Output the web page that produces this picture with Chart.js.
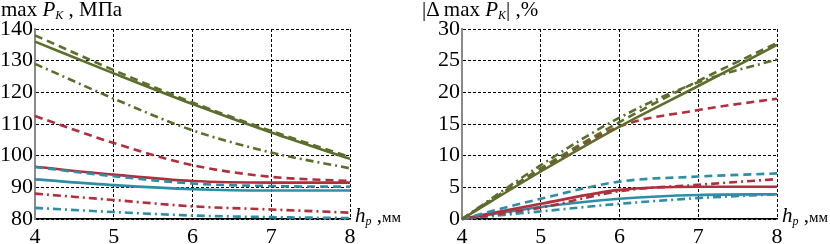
<!DOCTYPE html>
<html>
<head>
<meta charset="utf-8">
<script src="https://cdn.jsdelivr.net/npm/chart.js@4.4.0/dist/chart.umd.min.js"></script>
<style>
  body { margin: 0; background: #fff; width: 830px; height: 244px; overflow: hidden; position: relative; font-family: "Liberation Serif", serif; color: #000; }
  .box { position: absolute; top: 0; height: 244px; }
  .lbl { position: absolute; font-size: 21px; white-space: nowrap; line-height: 1; }
  .lbl i { font-style: italic; }
  .lbl sub { font-size: 12px; vertical-align: -3px; }
  .mm { font-size: 15px; }
</style>
</head>
<body>
<div class="box" style="left:0;width:420px"><canvas id="pressureChart" width="420" height="244"></canvas></div>
<div class="box" style="left:420px;width:410px"><canvas id="deltaChart" width="410" height="244"></canvas></div>

<div class="lbl" style="left:1px;top:-1px">max <i>P</i><sub><i>K</i></sub> , МПа</div>
<div class="lbl" style="left:422px;top:-1px">|Δ max <i>P</i><sub><i>K</i></sub>| ,%</div>
<div class="lbl" style="left:355px;top:205px"><i>h</i><sub><i>p</i></sub> ,<span class="mm">мм</span></div>
<div class="lbl" style="left:782px;top:205px"><i>h</i><sub><i>p</i></sub> ,<span class="mm">мм</span></div>

<script>
  const hp = [4, 5, 6, 7, 8];

  // left chart: max P_K, MPa
  const greenSolidP = [136, 126, 116.3, 107.3, 99];
  const greenDashP = [138, 127, 116.8, 107.8, 99.6];
  const greenDotP = [129, 118, 108, 101, 96];
  const redSolidP = [96.5, 94, 92, 91.5, 91.5];
  const redDashP = [112.5, 104, 97, 93.3, 92];
  const redDotP = [88, 86, 84, 83, 82];
  const tealSolidP = [92.5, 90.7, 89.4, 89, 89];
  const tealDashP = [96.4, 93.5, 91.2, 90.4, 90.2];
  const tealDotP = [83.5, 82.2, 81.1, 80.6, 80.3];

  // right chart: |delta max P_K|, %
  const greenSolidD = [0, 7.5, 14.6, 21, 27.5];
  const greenDashD = [0, 8, 15.3, 21.8, 27.8];
  const greenDotD = [0, 8.5, 16, 21.6, 25.2];
  const redSolidD = [0, 2.4, 4.6, 5.1, 5.1];
  const redDashD = [0, 7.8, 14.6, 17.2, 19];
  const redDotD = [0, 1.8, 4.4, 5.4, 6.3];
  const tealSolidD = [0, 1.9, 3.2, 3.8, 3.9];
  const tealDashD = [0, 3.2, 5.9, 6.7, 7.2];
  const tealDotD = [0, 1.2, 2.4, 3.3, 3.9];

  const pTicks = [80, 90, 100, 110, 120, 130, 140];
  const dTicks = [0, 5, 10, 15, 20, 25, 30];

  const GREEN = "#5c6e2c";
  const RED = "#b02f3c";
  const TEAL = "#2f8ea6";
  const DASH = [8, 5];
  const DASHDOT = [8, 4, 2, 4];

  function line(values, color, dash) {
    return {
      data: hp.map((x, i) => ({ x: x, y: values[i] })),
      borderColor: color,
      borderWidth: 2.6,
      borderDash: dash,
      pointRadius: 0,
      fill: false,
      cubicInterpolationMode: "monotone",
    };
  }

  function makeChart(id, datasets, ticks, yWidth, padRight) {
    const ctx = document.getElementById(id).getContext("2d");
    const font = { family: "'Liberation Serif', 'Times New Roman', serif", size: 22 };
    return new Chart(ctx, {
      type: "line",
      data: { datasets: datasets },
      options: {
        responsive: false,
        animation: false,
        clip: false,
        layout: { padding: { top: 29, right: padRight, left: 0, bottom: 0 } },
        plugins: { legend: { display: false }, tooltip: { enabled: false } },
        scales: {
          x: {
            type: "linear",
            min: 4,
            max: 8,
            ticks: { stepSize: 1, color: "#000", font: font, padding: 5 },
            grid: { color: "#000", lineWidth: 1, drawTicks: false },
            border: { color: "#000", width: 1.5, dash: [3, 2] },
            afterFit: function (scale) { scale.height = 25; },
          },
          y: {
            min: ticks[0],
            max: ticks[ticks.length - 1],
            afterBuildTicks: function (scale) { scale.ticks = ticks.map((v) => ({ value: v })); },
            ticks: { color: "#000", font: font, padding: 2 },
            grid: { color: "#000", lineWidth: 1, drawTicks: false },
            border: { color: "#8a8a8a", width: 2, dash: [3, 2] },
            afterFit: function (scale) { scale.width = yWidth; },
          },
        },
      },
    });
  }

  makeChart("pressureChart", [
    line(greenDashP, GREEN, DASH),
    line(greenSolidP, GREEN, []),
    line(greenDotP, GREEN, DASHDOT),
    line(redDashP, RED, DASH),
    line(tealDashP, TEAL, DASH),
    line(redSolidP, RED, []),
    line(tealSolidP, TEAL, []),
    line(redDotP, RED, DASHDOT),
    line(tealDotP, TEAL, DASHDOT),
  ], pTicks, 35, 70);

  makeChart("deltaChart", [
    line(greenDashD, GREEN, DASH),
    line(greenDotD, GREEN, DASHDOT),
    line(greenSolidD, GREEN, []),
    line(redDashD, RED, DASH),
    line(tealDashD, TEAL, DASH),
    line(redDotD, RED, DASHDOT),
    line(redSolidD, RED, []),
    line(tealSolidD, TEAL, []),
    line(tealDotD, TEAL, DASHDOT),
  ], dTicks, 42, 53);
</script>
</body>
</html>
